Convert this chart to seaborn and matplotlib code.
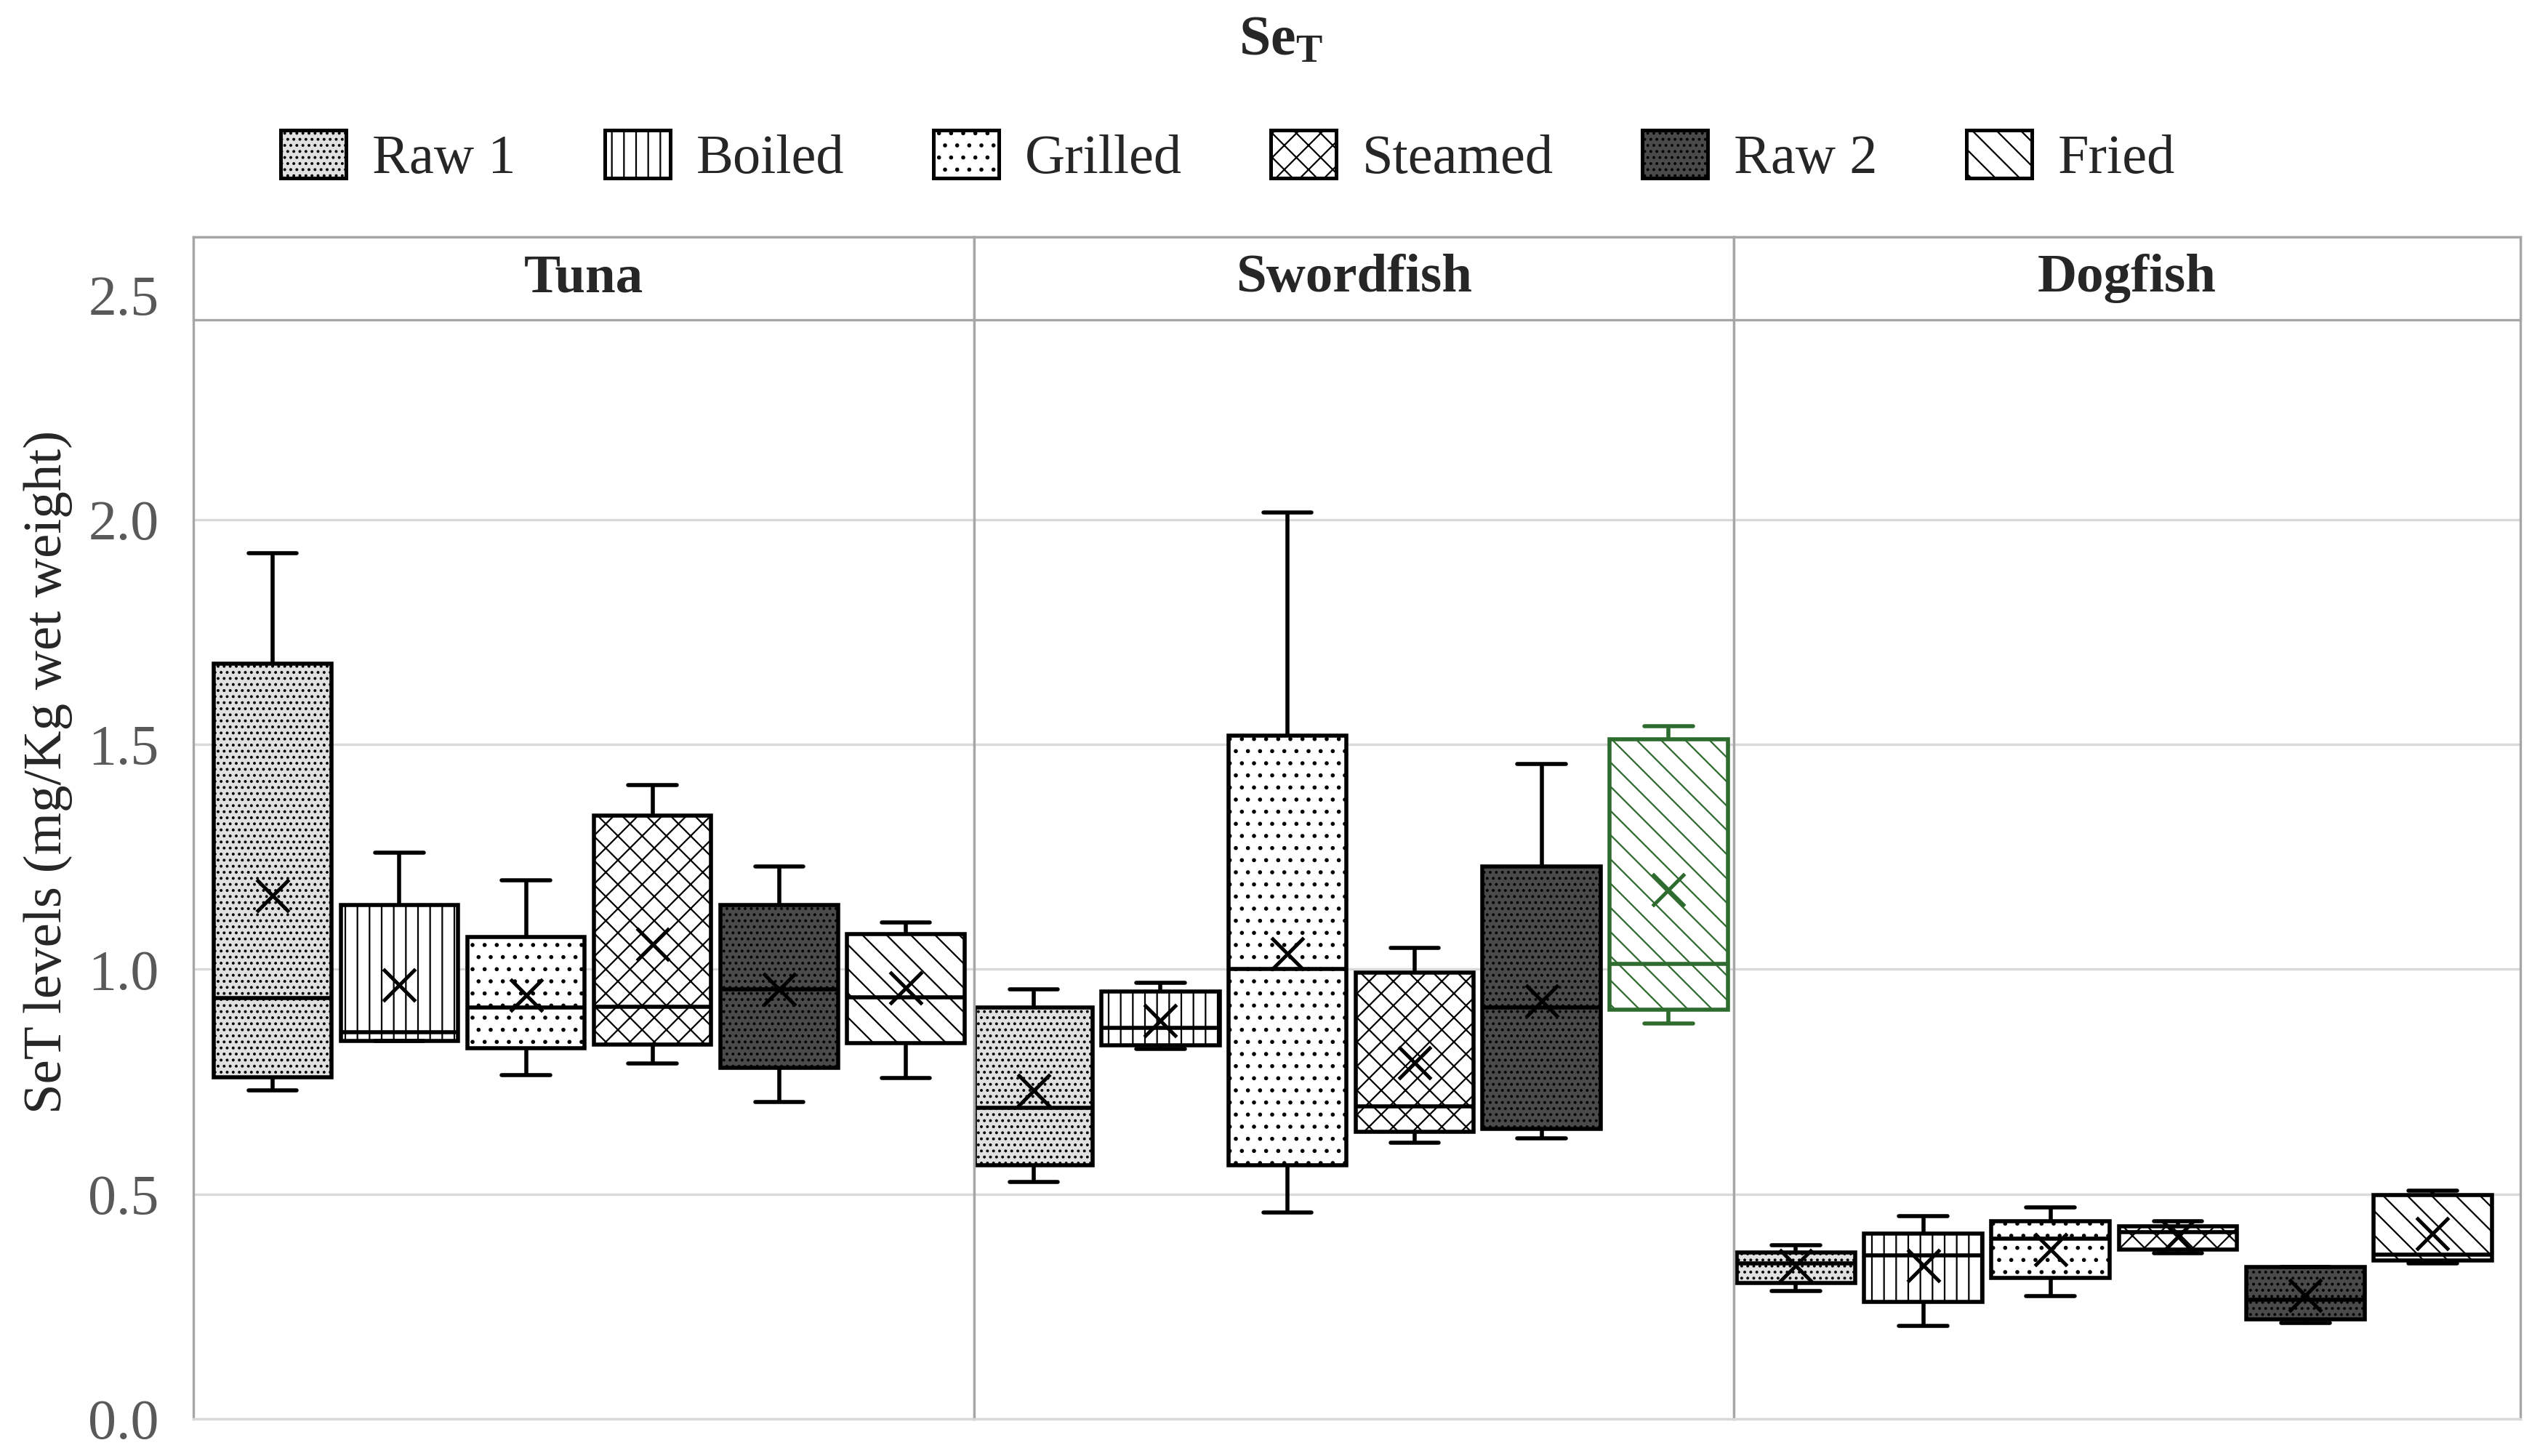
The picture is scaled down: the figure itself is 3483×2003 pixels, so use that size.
import numpy as np
import pandas as pd
import seaborn as sns
import matplotlib.pyplot as plt
from matplotlib.patches import Patch, Rectangle

fish = ['Tuna', 'Swordfish', 'Dogfish']
methods = ['Raw 1', 'Boiled', 'Grilled', 'Steamed', 'Raw 2', 'Fried']

# five-number summaries: min, q1, median, q3, max
tuna_box = [
    [0.730, 0.760, 0.935, 1.680, 1.925],
    [0.840, 0.840, 0.860, 1.143, 1.260],
    [0.765, 0.825, 0.915, 1.072, 1.198],
    [0.790, 0.832, 0.917, 1.342, 1.410],
    [0.705, 0.781, 0.955, 1.143, 1.228],
    [0.758, 0.836, 0.938, 1.078, 1.104],
]
tuna_mean = [1.164, 0.965, 0.942, 1.056, 0.955, 0.959]

swordfish_box = [
    [0.527, 0.564, 0.691, 0.915, 0.956],
    [0.822, 0.831, 0.870, 0.951, 0.970],
    [0.459, 0.564, 1.000, 1.519, 2.016],
    [0.614, 0.638, 0.695, 0.993, 1.048],
    [0.624, 0.644, 0.915, 1.228, 1.457],
    [0.880, 0.910, 1.012, 1.511, 1.541],
]
swordfish_mean = [0.730, 0.885, 1.035, 0.792, 0.930, 1.176]

dogfish_box = [
    [0.284, 0.302, 0.345, 0.370, 0.386],
    [0.207, 0.260, 0.364, 0.412, 0.451],
    [0.273, 0.314, 0.401, 0.439, 0.470],
    [0.368, 0.376, 0.415, 0.428, 0.439],
    [0.213, 0.221, 0.265, 0.337, 0.337],
    [0.346, 0.352, 0.365, 0.497, 0.508],
]
dogfish_mean = [0.341, 0.341, 0.376, 0.406, 0.274, 0.412]

yticks = [0.0, 0.5, 1.0, 1.5, 2.0, 2.5]

# long-form table for seaborn
rows = []
means = []
for f, boxes, mns in zip(fish, [tuna_box, swordfish_box, dogfish_box],
                         [tuna_mean, swordfish_mean, dogfish_mean]):
    for m, vals, mn in zip(methods, boxes, mns):
        for v in vals:
            rows.append((f, m, v))
        means.append((f, m, mn))
df = pd.DataFrame(rows, columns=['fish', 'method', 'value'])
mean_df = pd.DataFrame(means, columns=['fish', 'method', 'mean'])

# look of each cooking method
faces = {'Raw 1': '#e0e0e0', 'Boiled': 'white', 'Grilled': 'white',
         'Steamed': 'white', 'Raw 2': '#4a4a4a', 'Fried': 'white'}
hatches = {'Raw 1': '....', 'Boiled': '||', 'Grilled': '..',
           'Steamed': 'xx', 'Raw 2': '....', 'Fried': '\\\\'}
green = '#2e6b2e'

sns.set_theme(style='white')
plt.rcParams['font.family'] = ['Liberation Serif', 'DejaVu Serif']
plt.rcParams['mathtext.fontset'] = 'custom'
plt.rcParams['mathtext.rm'] = 'Liberation Serif'
plt.rcParams['mathtext.bf'] = 'Liberation Serif:bold'
plt.rcParams['hatch.linewidth'] = 0.8

fig, axes = plt.subplots(1, 3, sharey=True, figsize=(17.415, 10.015), dpi=200,
                         gridspec_kw={'width_ratios': [481, 468, 485]})
fig.subplots_adjust(left=0.0763, right=0.9955, top=0.837, bottom=0.0256, wspace=0)

xlims = [(-0.63, 5.54), (-0.47, 5.51), (-0.49, 5.69)]
ytop = 2.628
head = 2.444

for ax, f, xl in zip(axes, fish, xlims):
    sub = df[df['fish'] == f]
    sns.boxplot(data=sub, x='method', y='value', order=methods, hue='method',
                hue_order=methods, palette=faces, whis=(0, 100), width=0.93,
                linecolor='black', linewidth=2.0, showfliers=False,
                legend=False, ax=ax, capwidths=0.38)
    for p in ax.patches:
        vx = p.get_path().vertices[:, 0]
        i = int(round((vx.min() + vx.max()) / 2))
        if 0 <= i < len(methods):
            p.set_hatch(hatches[methods[i]])
            if f == 'Swordfish' and methods[i] == 'Fried':
                p.set_edgecolor(green)
    if f == 'Swordfish':
        for ln in ax.lines:
            xd = np.asarray(ln.get_xdata(), dtype=float)
            if len(xd) and abs(xd.mean() - 5) < 0.5:
                ln.set_color(green)

    msub = mean_df[mean_df['fish'] == f]
    mcol = {m: 'black' for m in methods}
    if f == 'Swordfish':
        mcol['Fried'] = green
    sns.stripplot(data=msub, x='method', y='mean', order=methods, hue='method',
                  hue_order=methods, palette=mcol, jitter=False, marker='x',
                  size=16, linewidth=1.8, legend=False, ax=ax, zorder=5)

    ax.set_xlim(*xl)
    ax.set_ylim(0, ytop)
    ax.set_yticks(yticks)
    ax.set_yticklabels([f'{t:.1f}' for t in yticks])
    ax.set_xticks([])
    ax.set_xlabel('')
    ax.set_ylabel('')
    ax.grid(axis='y', color='#d9d9d9', linewidth=1.2)
    ax.set_axisbelow(True)
    ax.tick_params(axis='y', length=0, pad=17, labelsize=28, labelcolor='#595959')
    for s in ax.spines.values():
        s.set_color('#a6a6a6')
        s.set_linewidth(1.2)
    ax.spines['bottom'].set_color('#d9d9d9')

    # panel header
    ax.add_patch(Rectangle((0, head / ytop), 1, 1 - head / ytop,
                           transform=ax.transAxes, facecolor='white',
                           edgecolor='#a6a6a6', linewidth=1.2, zorder=10,
                           clip_on=False))
    ax.text(0.5, (1 + head / ytop) / 2, f, transform=ax.transAxes,
            ha='center', va='center', fontsize=27, fontweight='bold', zorder=11)

fig.text(0.019, 0.47, 'SeT levels (mg/Kg wet weight)', rotation=90,
         ha='center', va='center', fontsize=27)
fig.text(0.506, 0.972, r'$\mathbf{Se_T}$', ha='center', va='center', fontsize=28)

handles = [Patch(facecolor=faces[m], hatch=hatches[m], edgecolor='black',
                 linewidth=1.8, label=m) for m in methods]
fig.legend(handles=handles, loc='center', bbox_to_anchor=(0.485, 0.892), ncol=6,
           frameon=False, fontsize=27.5, handlelength=1.18, handleheight=0.95,
           handletextpad=0.47, columnspacing=1.6)

fig.savefig('out.png', dpi=200)
